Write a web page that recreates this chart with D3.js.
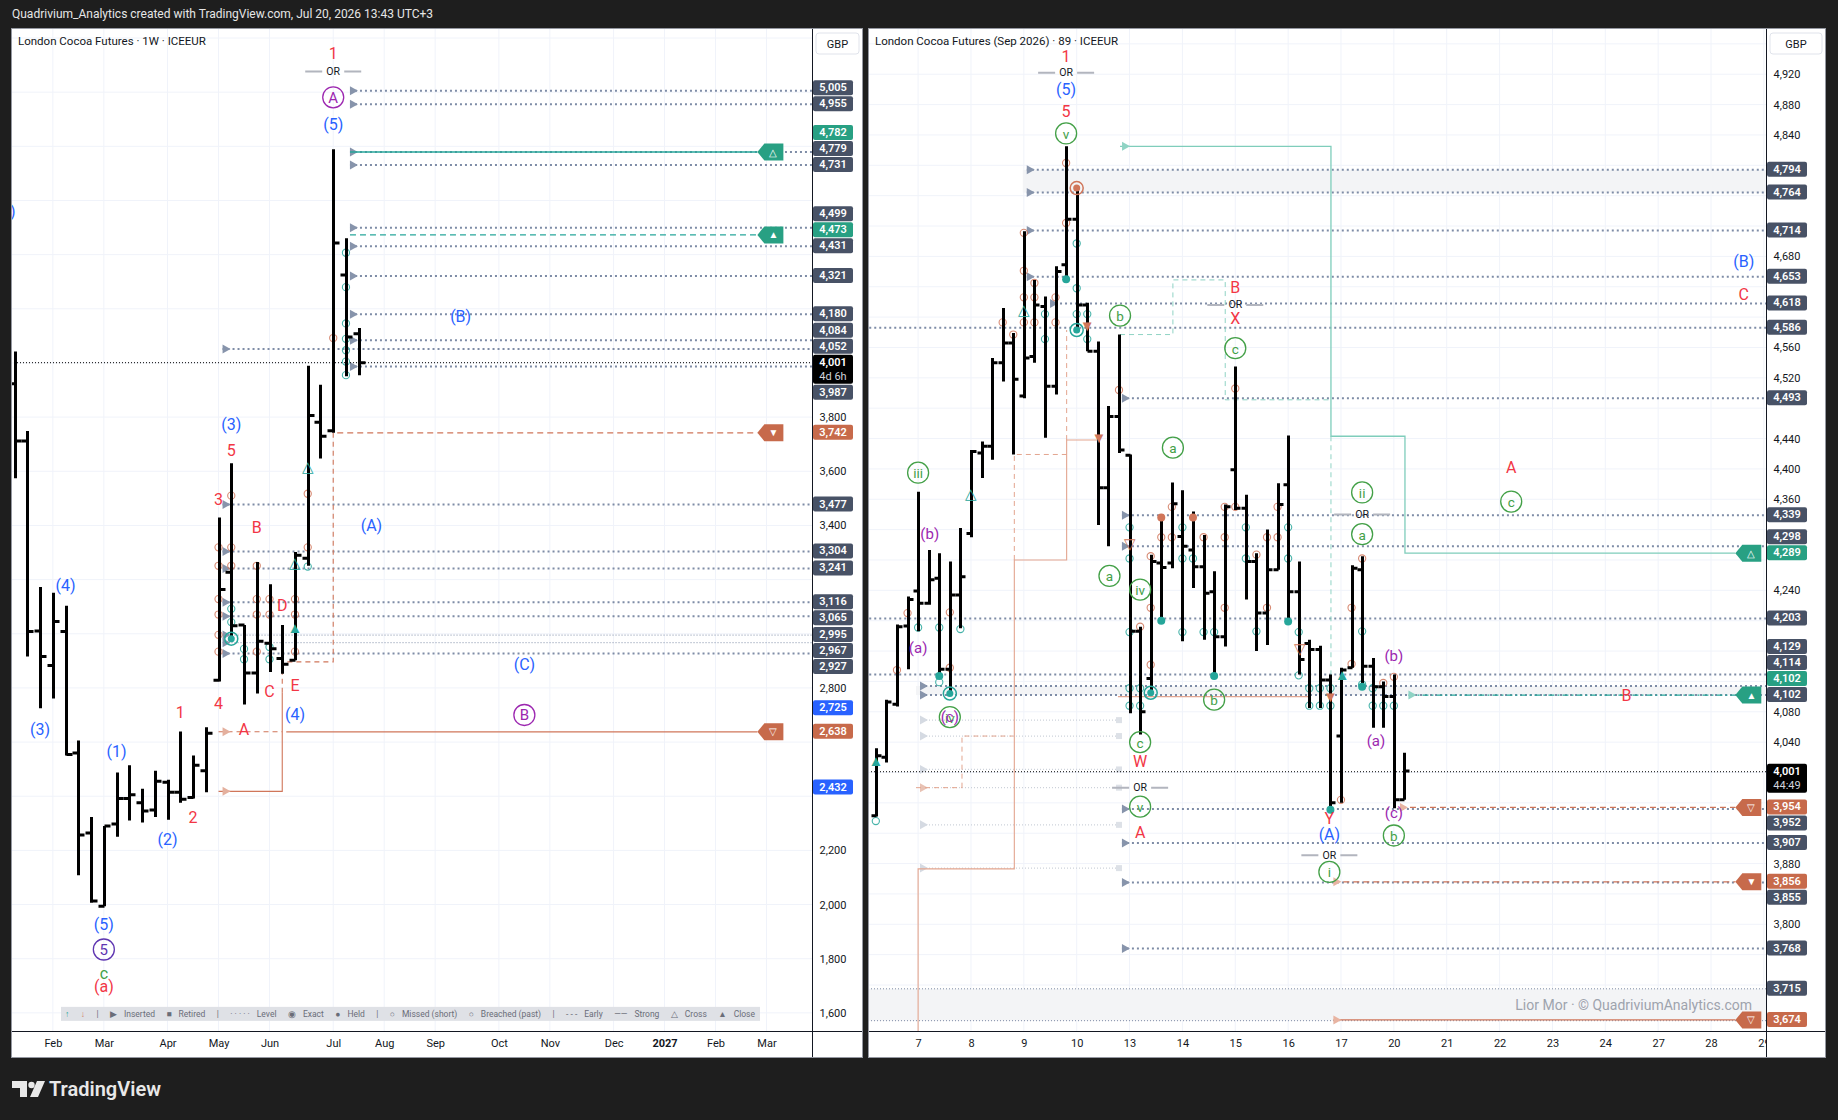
<!DOCTYPE html>
<html>
<head>
<meta charset="utf-8">
<title>London Cocoa Futures</title>
<script src="https://cdn.jsdelivr.net/npm/d3@7/dist/d3.min.js"></script>
<style>
  body { margin: 0; background: #1e1e1e; }
  svg { display: block; }
</style>
</head>
<body>
<script>
// ---------- left panel: weekly OHLC ----------
var weekDates = ["2026-01-12", "2026-01-19", "2026-01-26", "2026-02-02", "2026-02-09", "2026-02-16", "2026-02-23",
  "2026-03-02", "2026-03-09", "2026-03-16", "2026-03-23", "2026-03-30", "2026-04-06", "2026-04-13", "2026-04-20",
  "2026-04-27", "2026-05-04", "2026-05-11", "2026-05-18", "2026-05-25", "2026-06-01", "2026-06-08", "2026-06-15",
  "2026-06-22", "2026-06-29", "2026-07-06", "2026-07-13", "2026-07-20"];
var weekOpen = [3923, 3712, 3010, 2883, 3008, 2560, 2264, 1994, 2297, 2392, 2376, 2349, 2452, 2415, 2395, 2494,
  2828, 3227, 3032, 2855, 2965, 2909, 2902, 3279, 3781, 3750, 4325, 4108];
var weekHigh = [4042, 3749, 3173, 3151, 3103, 2606, 2323, 2290, 2488, 2514, 2428, 2494, 2461, 2639, 2550, 2655,
  3429, 3630, 3032, 3265, 3183, 3032, 3302, 3990, 3920, 4789, 4461, 4129];
var weekLow = [3574, 2916, 2725, 2761, 2550, 2108, 2007, 1994, 2250, 2310, 2303, 2323, 2313, 2376, 2392, 2415,
  2824, 2979, 2739, 2779, 2859, 2852, 2902, 3251, 3647, 3742, 3951, 3955];
var weekClose = [3712, 3008, 2916, 3045, 2554, 2257, 2013, 2290, 2392, 2405, 2345, 2455, 2415, 2389, 2514, 2633,
  3163, 3030, 2855, 2972, 2945, 2887, 3290, 3806, 3729, 4443, 4096, 4001];

var leftPriceTicks = d3.range(1600, 5201, 200);
var leftTickDates = ["2026-02-02", "2026-03-02", "2026-04-06", "2026-05-04", "2026-06-01", "2026-07-06", "2026-08-03",
  "2026-08-31", "2026-10-05", "2026-11-02", "2026-12-07", "2027-01-04", "2027-02-01", "2027-03-01"];
var leftTickLabels = ["Feb", "Mar", "Apr", "May", "Jun", "Jul", "Aug", "Sep", "Oct", "Nov", "Dec", "2027", "Feb", "Mar"];

// dotted levels: price, first week
var leftLevelPrice = [5005, 4955, 4779, 4731, 4499, 4431, 4321, 4180, 4084, 4052, 3987, 3477, 3304, 3241, 3116, 3065, 2995, 2967, 2927];
var leftLevelFrom = ["2026-07-13", "2026-07-13", "2026-07-13", "2026-07-13", "2026-07-13", "2026-07-13", "2026-07-13",
  "2026-07-13", "2026-07-13", "2026-05-04", "2026-07-13", "2026-05-04", "2026-05-04", "2026-05-04", "2026-05-04",
  "2026-05-04", "2026-05-04", "2026-05-04", "2026-05-04"];
var leftLevelThin = [2995, 2967];

// signal lines running to a tag: price, from, kind, symbol
var leftSignals = [[4779, "2026-07-13", "buySolid", "△"], [4473, "2026-07-13", "buyDash", "▲"],
  [3742, "2026-07-06", "sellDash", "▼"], [2638, "2026-06-08", "sellSolid", "▽"]];
var leftTagDate = "2027-02-24";

var leftSalmonSolid = [[["2026-05-04", 2418], ["2026-06-08", 2418], ["2026-06-08", 2782]]];
var leftSalmonDash = [[["2026-05-04", 2638], ["2026-06-08", 2638]],
  [["2026-06-08", 2782], ["2026-06-08", 2896], ["2026-07-06", 2896], ["2026-07-06", 3742]]];

var leftAxisLabels = [[5005, "level"], [4955, "level"], [4782, "buy"], [4779, "level"], [4731, "level"], [4499, "level"],
  [4473, "buy"], [4431, "level"], [4321, "level"], [4180, "level"], [4084, "level"], [4052, "level"], [4001, "last"],
  [3987, "level"], [3742, "sell"], [3477, "level"], [3304, "level"], [3241, "level"], [3116, "level"], [3065, "level"],
  [2995, "level"], [2967, "level"], [2927, "level"], [2725, "target"], [2638, "sell"], [2432, "target"]];

var leftWaves = [["2026-01-11", 4561, ")", "b"],
  ["2026-07-06", 5141, "1", "r"], ["2026-07-06", 5076, "OR", "or"], ["2026-07-06", 4981, "A", "pc"], ["2026-07-06", 4881, "(5)", "b"],
  ["2026-09-14", 4171, "(B)", "b"], ["2026-05-11", 3773, "(3)", "b"], ["2026-05-11", 3678, "5", "r"], ["2026-05-04", 3496, "3", "r"],
  ["2026-05-25", 3392, "B", "r"], ["2026-07-27", 3401, "(A)", "b"], ["2026-06-08", 3106, "D", "r"], ["2026-06-01", 2786, "C", "r"],
  ["2026-06-15", 2808, "E", "r"], ["2026-05-04", 2743, "4", "r"], ["2026-06-15", 2700, "(4)", "b"], ["2026-04-13", 2708, "1", "r"],
  ["2026-05-18", 2648, "A", "r"], ["2026-10-19", 2886, "(C)", "b"], ["2026-10-19", 2700, "B", "pc"], ["2026-02-09", 3180, "(4)", "b"],
  ["2026-01-26", 2648, "(3)", "b"], ["2026-03-09", 2565, "(1)", "b"], ["2026-04-06", 2241, "(2)", "b"], ["2026-04-20", 2323, "2", "r"],
  ["2026-03-02", 1926, "(5)", "b"], ["2026-03-02", 1834, "5", "ic"], ["2026-03-02", 1746, "c", "g"], ["2026-03-02", 1698, "(a)", "r"]];

var leftMarks = [["2026-06-15", 3022, "▲", "teal"], ["2026-06-15", 3262, "△", "teal"], ["2026-06-22", 3616, "△", "teal"],
  ["2026-05-11", 2982, "ring", "teal"]];

// small hollow hit circles: week, price
var leftHitsOrange = [["2026-05-04", 3319], ["2026-05-04", 3251], ["2026-05-04", 3128], ["2026-05-04", 3071],
  ["2026-05-04", 2996], ["2026-05-04", 2934], ["2026-05-11", 3510], ["2026-05-11", 3319], ["2026-05-11", 3251],
  ["2026-05-25", 3251], ["2026-05-25", 3128], ["2026-05-25", 3071], ["2026-05-25", 2934], ["2026-06-01", 3128],
  ["2026-06-01", 3071], ["2026-06-15", 3128], ["2026-06-15", 3071], ["2026-06-15", 2934], ["2026-06-22", 3517],
  ["2026-06-22", 3319], ["2026-07-06", 4092]];
var leftHitsTeal = [["2026-05-11", 3092], ["2026-05-11", 3043], ["2026-05-18", 2944], ["2026-05-18", 2906],
  ["2026-06-01", 2951], ["2026-06-01", 2906], ["2026-06-22", 3248], ["2026-07-13", 4407], ["2026-07-13", 4280],
  ["2026-07-13", 4146], ["2026-07-13", 4089], ["2026-07-13", 4047], ["2026-07-13", 4005], ["2026-07-13", 3955]];

// ---------- right panel: 89 minute OHLC (bar index, 0 = first bar of the 7th) ----------
var barIndex = d3.range(-4, 47);
var barOpen = [3943, 4020, 4090, 4193, 4239, 4223, 4256, 4136, 4234, 4315, 4421, 4430, 4540, 4566, 4496, 4548, 4614,
  4509, 4669, 4729, 4616, 4555, 4375, 4469, 4418, 4186, 4124, 4276, 4276, 4311, 4293, 4271, 4238, 4179, 4399, 4348,
  4278, 4210, 4267, 4379, 4238, 4170, 4162, 4122, 4048, 4138, 4267, 4140, 4113, 4100, 3964];
var barHigh = [4032, 4096, 4195, 4232, 4370, 4293, 4289, 4278, 4322, 4425, 4436, 4546, 4612, 4579, 4713, 4649, 4627,
  4667, 4825, 4770, 4619, 4568, 4483, 4577, 4419, 4192, 4287, 4339, 4382, 4372, 4344, 4313, 4265, 4353, 4535, 4366,
  4289, 4320, 4381, 4444, 4278, 4175, 4167, 4129, 4138, 4273, 4285, 4151, 4120, 4129, 4026];
var barLow = [3942, 4013, 4087, 4136, 4186, 4221, 4124, 4102, 4190, 4310, 4388, 4412, 4515, 4419, 4493, 4540, 4441,
  4498, 4647, 4583, 4555, 4326, 4298, 4421, 4078, 4050, 4105, 4201, 4269, 4173, 4243, 4175, 4127, 4166, 4346, 4228,
  4160, 4168, 4267, 4199, 4129, 4085, 4085, 3951, 3960, 4138, 4113, 4059, 4059, 3953, 3964];
var barClose = [4022, 4093, 4192, 4228, 4223, 4254, 4136, 4234, 4258, 4423, 4430, 4540, 4566, 4518, 4546, 4616, 4509,
  4660, 4729, 4616, 4555, 4375, 4469, 4425, 4186, 4080, 4278, 4270, 4354, 4298, 4271, 4236, 4179, 4350, 4348, 4278,
  4210, 4267, 4353, 4238, 4149, 4162, 4122, 3960, 4135, 4269, 4140, 4113, 4100, 3964, 4002];

var rightPriceTicks = d3.range(3680, 4961, 40);
var dayTickBars = d3.range(0, 81, 5);
var dayTickLabels = ["7", "8", "9", "10", "13", "14", "15", "16", "17", "20", "21", "22", "23", "24", "27", "28", "29"];

var rightLevelPrice = [4794, 4764, 4714, 4653, 4618, 4586, 4493, 4339, 4298, 4203, 4129, 4114, 4102, 3952, 3907, 3855, 3768];
var rightLevelFrom = [9.9, 9.9, 9.9, 9.9, 12.1, -5, 18.9, 18.9, 18.9, -5, -5, -0.2, -0.2, 18.9, 18.9, 18.9, 18.9];
var rightRetiredPrice = [4069, 4048, 4004, 3980, 3931, 3874];
var rightThinPrice = [3715, 3673];
var rightBands = [[4794, 4764, 9.9], [4114, 4102, -0.2], [3715, 3673, -5]];

var rightSignals = [[4289, null, "buySolid", "△"], [4102, 46, "buyDashDot", "▲"], [3954, 45.2, "sellDash", "▽"],
  [3856, 38.9, "sellDash", "▼"], [3674, 38.9, "sellSolid", "▽"]];
var rightTagBar = 77.3;

var rightTealSolid = [[[19.1, 4825], [39.05, 4825], [39.05, 4443], [46.05, 4443], [46.05, 4289], [77.3, 4289]]];
var rightTealDash = [[[39.05, 4443], [39.05, 3951]],
  [[19.1, 4577], [24.1, 4577], [24.1, 4649], [29.05, 4649], [29.05, 4491], [39.05, 4491]]];
var rightSalmonSolid = [[[0, 3600], [0, 3873], [9.1, 3873], [9.1, 4280], [14.05, 4280], [14.05, 4438], [17.1, 4438]],
  [[18.9, 4100], [37.1, 4100]]];
var rightSalmonDash = [[[9.1, 4280], [9.1, 4419], [14.05, 4419]], [[14.05, 4438], [14.05, 4583]],
  [[4.15, 3980], [4.15, 4048], [9.0, 4048]], [[-0.2, 3980], [4.15, 3980]]];

var rightAxisLabels = [[4794, "level"], [4764, "level"], [4714, "level"], [4653, "level"], [4618, "level"], [4586, "level"],
  [4493, "level"], [4339, "level"], [4298, "level"], [4289, "buy"], [4203, "level"], [4129, "level"], [4114, "level"],
  [4102, "buy"], [4102, "level"], [4001, "last"], [3954, "sell"], [3952, "level"], [3907, "level"], [3856, "sell"],
  [3855, "level"], [3768, "level"], [3715, "level"], [3674, "sell"]];

var rightWaves = [[14, 4944, "1", "r"], [14, 4922, "OR", "or"], [14, 4900, "(5)", "b"], [14, 4871, "5", "r"], [14, 4842, "v", "gc"],
  [30, 4639, "B", "r"], [30, 4616, "OR", "or"], [30, 4598, "X", "r"], [30, 4559, "c", "gc"],
  [19.1, 4602, "b", "gc"], [24.1, 4428, "a", "gc"], [0, 4395, "iii", "gc"], [1.1, 4314, "(b)", "p"], [0, 4164, "(a)", "p"],
  [18.1, 4259, "a", "gc"], [21, 4241, "iv", "gc"], [3, 4073, "iv", "gc"], [3, 4073, "(c)", "p"],
  [21, 4040, "c", "gc"], [21, 4014, "W", "r"], [21, 3980, "OR", "or"], [21, 3955, "v", "gc"], [21, 3921, "A", "r"],
  [28, 4096, "b", "gc"], [42, 4369, "ii", "gc"], [42, 4340, "OR", "or"], [42, 4314, "a", "gc"],
  [45, 4154, "(b)", "p"], [43.3, 4042, "(a)", "p"], [38.9, 3940, "Y", "r"], [38.9, 3918, "(A)", "b"], [38.9, 3891, "OR", "or"],
  [38.9, 3869, "i", "gc"], [45, 3946, "(c)", "p"], [45, 3917, "b", "gc"], [78.1, 4673, "(B)", "b"], [78.1, 4630, "C", "r"],
  [56.1, 4402, "A", "r"], [56.1, 4357, "c", "gc"], [67, 4101, "B", "r"]];

var rightMarks = [[-4, 4015, "▲", "teal"], [5, 4367, "△", "teal"], [10, 4610, "△", "teal"], [40.1, 4129, "▲", "teal"],
  [20, 4301, "▽", "orange"], [39, 4100, "▼", "orange"], [36.1, 4163, "▽", "orange"], [16, 4588, "▼", "orange"],
  [17.1, 4441, "▼", "orange"],
  [14, 4650, "dot", "teal"], [15, 4583, "ring", "teal"], [15, 4770, "ring", "orange"], [3, 4104, "ring", "teal"],
  [22, 4105, "ring", "teal"], [23, 4200, "dot", "teal"], [28, 4127, "dot", "teal"], [35, 4199, "dot", "teal"],
  [39, 3951, "dot", "teal"], [42, 4113, "dot", "teal"], [23, 4336, "dot", "orange"], [26, 4336, "dot", "orange"],
  [2, 4127, "dot", "teal"]];

var rightHitsOrange = [[-1, 4210], [-2, 4135], [3, 4211], [3, 4138], [22, 4285], [22, 4217], [22, 4142], [24, 4350],
  [23, 4310], [24, 4310], [27, 4310], [29, 4350], [29, 4310], [30, 4350], [29, 4217], [32, 4287], [33, 4310], [34, 4350],
  [34, 4310], [33, 4217], [41, 4217], [41, 4143], [42, 4282], [44, 4118], [45, 4126], [40, 3964], [21, 4192],
  [14, 4803], [14, 4724], [10, 4711], [10, 4661], [11, 4645], [10, 4626], [11, 4626], [13, 4626], [8, 4593], [10, 4593],
  [11, 4593], [13, 4593], [9, 4577], [19, 4504], [30, 4506]];
var rightHitsTeal = [[0, 4191], [2, 4191], [4, 4189], [2, 4119], [20, 4323], [20, 4282], [20, 4185], [20, 4111], [21, 4111],
  [20, 4088], [21, 4088], [25, 4323], [25, 4282], [26, 4282], [25, 4185], [27, 4185], [28, 4185], [31, 4323], [31, 4282],
  [32, 4186], [35, 4323], [35, 4282], [36, 4185], [36, 4128], [37, 4111], [38, 4111], [39, 4111], [37, 4088], [38, 4088],
  [39, 4088], [42, 4186], [42, 4116], [43, 4088], [44, 4088], [45, 4088], [43, 4111], [-4, 3936],
  [15, 4697], [15, 4638], [15, 4604], [16, 4604], [12, 4604], [12, 4571], [16, 4571]];

var legendItems = [["↑", ""], ["↓", ""], ["|", ""], ["▶", "Inserted"], ["■", "Retired"], ["|", ""], ["· · · · ·", "Level"],
  ["◉", "Exact"], ["●", "Held"], ["|", ""], ["○", "Missed (short)"], ["○", "Breached (past)"], ["|", ""],
  ["- - -", "Early"], ["——", "Strong"], ["△", "Cross"], ["▲", "Close"]];

// ---------- layout ----------
var parseDate = d3.timeParse("%Y-%m-%d");
var chartTop = 28, plotBottom = 1031, axisBottom = 1058;
var leftBox = { left: 11, right: 812, axisRight: 863 };
var rightBox = { left: 868, right: 1766, axisRight: 1826 };
var font = "Roboto, 'Noto Sans', sans-serif";
var tagH = 16;

var colors = {
  level: "#485266", buy: "#28a083", sell: "#c76a4b", target: "#2962ff", last: "#000000",
  red: "#f23645", blue: "#2962ff", green: "#43a047", purple: "#9c27b0", indigo: "#5e35b1",
  teal: "#26a69a", orange: "#d0765a", dots: "#7e8ca6", grid: "#f0f3fa"
};

var svg = d3.select("body").append("svg")
  .attr("width", 1838)
  .attr("height", 1120)
  .style("font-family", font);

svg.append("rect").attr("width", 1838).attr("height", 1120).attr("fill", "#1e1e1e");
svg.append("text")
  .attr("x", 12).attr("y", 18)
  .attr("fill", "#e6e6e6").attr("font-size", 12)
  .text("Quadrivium_Analytics created with TradingView.com, Jul 20, 2026 13:43 UTC+3");

var defs = svg.append("defs");

// scales
var xLeft = d3.scaleTime()
  .domain([parseDate("2026-01-10"), parseDate("2027-03-26")])
  .range([leftBox.left, leftBox.right]);
var yLeft = d3.scaleLinear().domain([1533, 5237]).range([plotBottom, chartTop]);
var xRight = d3.scaleLinear().domain([-4.74, 80.2]).range([rightBox.left, rightBox.right]);
var yRight = d3.scaleLinear().domain([3659.4, 4980.9]).range([plotBottom, chartTop]);

function makePanel(box, id, title) {
  var g = svg.append("g");
  g.append("rect")
    .attr("x", box.left).attr("y", chartTop)
    .attr("width", box.axisRight - box.left).attr("height", axisBottom - chartTop)
    .attr("fill", "#fff");
  defs.append("clipPath").attr("id", "clip-" + id)
    .append("rect")
    .attr("x", box.left).attr("y", chartTop)
    .attr("width", box.right - box.left).attr("height", plotBottom - chartTop);
  var grid = g.append("g");
  var plot = g.append("g").attr("clip-path", "url(#clip-" + id + ")");
  g.append("text")
    .attr("x", box.left + 7).attr("y", chartTop + 17)
    .attr("font-size", 11.5).attr("fill", "#131722")
    .text(title);
  return { g: g, grid: grid, plot: plot, box: box };
}

var left = makePanel(leftBox, "left", "London Cocoa Futures · 1W · ICEEUR");
var right = makePanel(rightBox, "right", "London Cocoa Futures (Sep 2026) · 89 · ICEEUR");

// grid
function drawGrid(p, xs, ys, xTicks, yTicks) {
  p.grid.selectAll("line.gx").data(xTicks).enter().append("line")
    .attr("x1", function (d) { return xs(d); }).attr("x2", function (d) { return xs(d); })
    .attr("y1", chartTop).attr("y2", plotBottom)
    .attr("stroke", colors.grid);
  p.grid.selectAll("line.gy").data(yTicks).enter().append("line")
    .attr("x1", p.box.left).attr("x2", p.box.right)
    .attr("y1", function (d) { return ys(d); }).attr("y2", function (d) { return ys(d); })
    .attr("stroke", colors.grid);
}
drawGrid(left, xLeft, yLeft, leftTickDates.map(parseDate), leftPriceTicks);
drawGrid(right, xRight, yRight, dayTickBars, rightPriceTicks);

var line = d3.line();

function polyline(g, pts, xs, ys, xConv, color, width, dash) {
  g.append("path")
    .attr("d", line(pts.map(function (d) { return [xs(xConv(d[0])), ys(d[1])]; })))
    .attr("fill", "none")
    .attr("stroke", color)
    .attr("stroke-width", width)
    .attr("stroke-dasharray", dash || null);
}

function startArrow(g, x, y, color) {
  g.append("path")
    .attr("d", "M" + x + "," + (y - 4.5) + "L" + (x + 8) + "," + y + "L" + x + "," + (y + 4.5) + "Z")
    .attr("fill", color);
}

function tag(g, x, y, color, symbol) {
  g.append("path")
    .attr("d", "M" + x + "," + y + "L" + (x + 7) + "," + (y - 8.5) + "H" + (x + 26) + "V" + (y + 8.5) + "H" + (x + 7) + "Z")
    .attr("fill", color);
  g.append("text")
    .attr("x", x + 16).attr("y", y)
    .attr("text-anchor", "middle").attr("dominant-baseline", "central")
    .attr("font-size", 10).attr("fill", "#fff")
    .text(symbol);
}

function signalStyle(kind) {
  if (kind === "buySolid") return [colors.teal, 1.4, null];
  if (kind === "buyDash") return [colors.teal, 1.2, "6,4"];
  if (kind === "buyDashDot") return [colors.teal, 1.2, "6,3,2,3"];
  if (kind === "sellDash") return [colors.orange, 1.2, "6,4"];
  return [colors.orange, 1.2, null];
}

function drawHits(g, xs, ys, xConv, pts, color) {
  g.selectAll(null).data(pts).enter().append("circle")
    .attr("cx", function (d) { return xs(xConv(d[0])); })
    .attr("cy", function (d) { return ys(d[1]); })
    .attr("r", 3.6)
    .attr("fill", "none")
    .attr("stroke", color)
    .attr("stroke-width", 1.1)
    .attr("opacity", 0.85);
}

function drawBars(g, xs, ys, xVals, o, h, l, c, tick) {
  g.selectAll("path.bar").data(d3.range(xVals.length)).enter().append("path")
    .attr("d", function (i) {
      var cx = Math.round(xs(xVals[i])) + 0.5;
      return "M" + cx + "," + ys(h[i]) + "V" + ys(l[i]) +
        "M" + (cx - tick) + "," + ys(o[i]) + "H" + cx +
        "M" + cx + "," + ys(c[i]) + "H" + (cx + tick);
    })
    .attr("fill", "none")
    .attr("stroke", "#000")
    .attr("stroke-width", 3);
}

function drawMarks(g, xs, ys, xConv, marks) {
  marks.forEach(function (m) {
    var x = xs(xConv(m[0])), y = ys(m[1]), col = m[3] === "teal" ? colors.teal : colors.orange;
    if (m[2] === "dot") {
      g.append("circle").attr("cx", x).attr("cy", y).attr("r", 4).attr("fill", col);
    } else if (m[2] === "ring") {
      g.append("circle").attr("cx", x).attr("cy", y).attr("r", 6.5).attr("fill", "none").attr("stroke", col).attr("stroke-width", 1.5);
      g.append("circle").attr("cx", x).attr("cy", y).attr("r", 3.5).attr("fill", col);
    } else {
      g.append("text").attr("x", x).attr("y", y)
        .attr("text-anchor", "middle").attr("dominant-baseline", "central")
        .attr("font-size", 15).attr("fill", col).text(m[2]);
    }
  });
}

function drawWaves(g, xs, ys, xConv, waves) {
  waves.forEach(function (w) {
    var x = xs(xConv(w[0])), y = ys(w[1]), kind = w[3];
    if (kind === "or") {
      g.append("text").attr("x", x).attr("y", y)
        .attr("text-anchor", "middle").attr("dominant-baseline", "central")
        .attr("font-size", 10.5).attr("fill", "#131722").text("OR");
      g.append("path")
        .attr("d", "M" + (x - 28) + "," + y + "H" + (x - 11) + "M" + (x + 11) + "," + y + "H" + (x + 28))
        .attr("stroke", "#b2b5be").attr("stroke-width", 2);
      return;
    }
    if (kind === "gc" || kind === "pc" || kind === "ic") {
      var col = kind === "gc" ? colors.green : (kind === "pc" ? colors.purple : colors.indigo);
      g.append("circle").attr("cx", x).attr("cy", y).attr("r", 10.5)
        .attr("fill", "none").attr("stroke", col).attr("stroke-width", 1.3);
      g.append("text").attr("x", x).attr("y", y + 0.5)
        .attr("text-anchor", "middle").attr("dominant-baseline", "central")
        .attr("font-size", kind === "gc" ? 13.5 : 15).attr("fill", col).text(w[2]);
      return;
    }
    var fill = { r: colors.red, b: colors.blue, p: colors.purple, g: colors.green }[kind];
    g.append("text").attr("x", x).attr("y", y)
      .attr("text-anchor", "middle").attr("dominant-baseline", "central")
      .attr("font-size", kind === "p" ? 15 : 16).attr("fill", fill).text(w[2]);
  });
}

// ---------- left panel content ----------
var lp = left.plot;
var dateOf = function (d) { return parseDate(d); };
var keep = function (d) { return d; };

leftLevelPrice.forEach(function (p, i) {
  var x0 = xLeft(parseDate(leftLevelFrom[i])) + 4, y = yLeft(p);
  var thin = leftLevelThin.indexOf(p) >= 0;
  lp.append("line")
    .attr("x1", x0).attr("x2", leftBox.right).attr("y1", y).attr("y2", y)
    .attr("stroke", colors.dots).attr("stroke-width", thin ? 1 : 2)
    .attr("stroke-dasharray", thin ? "1,2" : "2,3");
  startArrow(lp, x0, y, "#8794ab");
});

leftSalmonSolid.forEach(function (pts) { polyline(lp, pts, xLeft, yLeft, dateOf, colors.orange, 1.1); });
leftSalmonDash.forEach(function (pts) { polyline(lp, pts, xLeft, yLeft, dateOf, colors.orange, 1.1, "5,4"); });
startArrow(lp, xLeft(parseDate("2026-05-04")) + 4, yLeft(2638), "#e4b09e");
startArrow(lp, xLeft(parseDate("2026-05-04")) + 4, yLeft(2418), "#e4b09e");

leftSignals.forEach(function (s) {
  var st = signalStyle(s[2]), y = yLeft(s[0]), tx = xLeft(parseDate(leftTagDate));
  lp.append("line")
    .attr("x1", xLeft(parseDate(s[1])) + 4).attr("x2", tx).attr("y1", y).attr("y2", y)
    .attr("stroke", st[0]).attr("stroke-width", st[1]).attr("stroke-dasharray", st[2]);
  tag(lp, tx, y, s[2].indexOf("buy") === 0 ? colors.buy : colors.sell, s[3]);
});

// last price line
lp.append("line")
  .attr("x1", leftBox.left).attr("x2", leftBox.right)
  .attr("y1", yLeft(4001)).attr("y2", yLeft(4001))
  .attr("stroke", "#000").attr("stroke-dasharray", "1,2");

drawHits(lp, xLeft, yLeft, dateOf, leftHitsOrange, colors.orange);
drawHits(lp, xLeft, yLeft, dateOf, leftHitsTeal, colors.teal);
drawBars(lp, xLeft, yLeft, weekDates.map(parseDate), weekOpen, weekHigh, weekLow, weekClose, 6);
drawMarks(lp, xLeft, yLeft, dateOf, leftMarks);
drawWaves(lp, xLeft, yLeft, dateOf, leftWaves);

// legend strip
var legend = lp.append("g");
legend.append("rect")
  .attr("x", 61).attr("y", yLeft(1600) - 6).attr("width", 699).attr("height", 14)
  .attr("fill", "#dfe1e6");
var legendParts = legendItems.map(function (it) {
  var grp = legend.append("g");
  var sym = grp.append("text").attr("font-size", 8.5).attr("fill", it[0] === "↑" ? colors.teal : (it[0] === "↓" ? colors.orange : "#6a6d78"))
    .attr("dominant-baseline", "central").text(it[0]);
  var w = sym.node().getComputedTextLength();
  if (it[1]) {
    var lab = grp.append("text").attr("x", w + 7).attr("font-size", 8.5).attr("fill", "#6a6d78")
      .attr("dominant-baseline", "central").text(it[1]);
    w += 7 + lab.node().getComputedTextLength();
  }
  return { g: grp, w: w };
});
var legendTotal = d3.sum(legendParts, function (d) { return d.w; });
var legendGap = (690 - legendTotal) / (legendParts.length - 1);
var lx = 65;
legendParts.forEach(function (d) {
  d.g.attr("transform", "translate(" + lx + "," + (yLeft(1600) + 1) + ")");
  lx += d.w + legendGap;
});

// ---------- right panel content ----------
var rp = right.plot;

rightBands.forEach(function (b) {
  rp.append("rect")
    .attr("x", xRight(b[2])).attr("y", yRight(b[0]))
    .attr("width", rightBox.right - xRight(b[2])).attr("height", yRight(b[1]) - yRight(b[0]))
    .attr("fill", "#f3f4f6");
});

rightLevelPrice.forEach(function (p, i) {
  var x0 = xRight(rightLevelFrom[i]) + 4, y = yRight(p);
  rp.append("line")
    .attr("x1", x0).attr("x2", rightBox.right).attr("y1", y).attr("y2", y)
    .attr("stroke", colors.dots).attr("stroke-width", 2).attr("stroke-dasharray", "2,3");
  if (rightLevelFrom[i] > -4) startArrow(rp, x0, y, "#8794ab");
});
rightRetiredPrice.forEach(function (p, i) {
  var y = yRight(p);
  rp.append("line")
    .attr("x1", xRight(-0.2) + 4).attr("x2", xRight(19)).attr("y1", y).attr("y2", y)
    .attr("stroke", "#cdd2da").attr("stroke-width", 1.2).attr("stroke-dasharray", "1,2");
  startArrow(rp, xRight(-0.2) + 4, y, i === 3 ? "#e8c2b4" : "#d5dae2");
  rp.append("rect").attr("x", xRight(19) - 3).attr("y", y - 3).attr("width", 6).attr("height", 6).attr("fill", "#dde1e7");
});
rightThinPrice.forEach(function (p) {
  rp.append("line")
    .attr("x1", rightBox.left).attr("x2", rightBox.right).attr("y1", yRight(p)).attr("y2", yRight(p))
    .attr("stroke", colors.dots).attr("stroke-width", 1).attr("stroke-dasharray", "1,2");
});

rightTealSolid.forEach(function (pts) { polyline(rp, pts, xRight, yRight, keep, "#7fcdbb", 1.3); });
rightTealDash.forEach(function (pts) { polyline(rp, pts, xRight, yRight, keep, "#8fd3c4", 1, "5,4"); });
rightSalmonSolid.forEach(function (pts) { polyline(rp, pts, xRight, yRight, keep, "#e3a58f", 1.1); });
rightSalmonDash.forEach(function (pts) { polyline(rp, pts, xRight, yRight, keep, "#e3a58f", 1, "5,4"); });
startArrow(rp, xRight(19.1) + 2, yRight(4825), "#8fd3c4");

rightSignals.forEach(function (s) {
  var st = signalStyle(s[2]), y = yRight(s[0]), tx = xRight(rightTagBar);
  if (s[1] !== null) {
    rp.append("line")
      .attr("x1", xRight(s[1]) + 4).attr("x2", tx).attr("y1", y).attr("y2", y)
      .attr("stroke", st[0]).attr("stroke-width", st[1]).attr("stroke-dasharray", st[2]);
    startArrow(rp, xRight(s[1]) + 4, y, s[2].indexOf("buy") === 0 ? "#8fd3c4" : "#e8b4a2");
  }
  tag(rp, tx, y, s[2].indexOf("buy") === 0 ? colors.buy : colors.sell, s[3]);
});

rp.append("line")
  .attr("x1", rightBox.left).attr("x2", rightBox.right)
  .attr("y1", yRight(4001)).attr("y2", yRight(4001))
  .attr("stroke", "#000").attr("stroke-dasharray", "1,2");

drawHits(rp, xRight, yRight, keep, rightHitsOrange, colors.orange);
drawHits(rp, xRight, yRight, keep, rightHitsTeal, colors.teal);
drawBars(rp, xRight, yRight, barIndex, barOpen, barHigh, barLow, barClose, 5);
drawMarks(rp, xRight, yRight, keep, rightMarks);
drawWaves(rp, xRight, yRight, keep, rightWaves);

rp.append("text")
  .attr("x", 1752).attr("y", yRight(3694))
  .attr("text-anchor", "end").attr("dominant-baseline", "central")
  .attr("font-size", 14).attr("fill", "#9ea3ad")
  .text("Lior Mor · © QuadriviumAnalytics.com");

// ---------- axes ----------
function priceAxis(p, ys, ticks, labels, countdown) {
  var box = p.box;

  // price tags: the last price stays put, tags above it are pushed upward, tags below pushed downward
  var items = labels.map(function (d, i) {
    return { price: d[0], kind: d[1], y: ys(d[0]), order: i };
  });
  var last = items.filter(function (d) { return d.kind === "last"; })[0];
  last.top = last.y - 8; last.h = 30;
  var above = items.filter(function (d) { return d !== last && d.y <= last.y; })
    .sort(function (a, b) { return b.y - a.y || b.order - a.order; });
  var below = items.filter(function (d) { return d !== last && d.y > last.y; })
    .sort(function (a, b) { return a.y - b.y || a.order - b.order; });
  var limit = last.top;
  above.forEach(function (d) {
    d.h = tagH;
    d.top = Math.min(d.y - tagH / 2, limit - tagH);
    limit = d.top;
  });
  limit = last.top + last.h;
  below.forEach(function (d) {
    d.h = tagH;
    d.top = Math.max(d.y - tagH / 2, limit);
    limit = d.top + tagH;
  });

  // tick labels that sit under a tag or the GBP badge are hidden, as on the original
  var visibleTicks = ticks.filter(function (t) {
    var y = ys(t);
    if (y < chartTop + 34) return false;
    return !items.some(function (d) { return y > d.top - 6 && y < d.top + d.h + 5; });
  });
  var ax = p.g.append("g").attr("transform", "translate(" + box.right + ",0)")
    .call(d3.axisRight(ys).tickValues(visibleTicks).tickFormat(d3.format(",")).tickSize(0).tickPadding(21));
  ax.select(".domain").remove();
  ax.selectAll("text").attr("text-anchor", "middle").attr("font-size", 11).attr("fill", "#131722").attr("font-family", font);

  // GBP badge
  p.g.append("rect")
    .attr("x", box.right + 4).attr("y", chartTop + 5).attr("width", box.axisRight - box.right - 8).attr("height", 21)
    .attr("rx", 3).attr("fill", "#fff").attr("stroke", "#e0e3eb");
  p.g.append("text")
    .attr("x", (box.right + box.axisRight) / 2).attr("y", chartTop + 16)
    .attr("text-anchor", "middle").attr("dominant-baseline", "central")
    .attr("font-size", 11).attr("fill", "#131722").text("GBP");

  var cx = box.right + 21;
  items.forEach(function (d) {
    p.g.append("rect")
      .attr("x", box.right + 1).attr("y", d.top).attr("width", 40).attr("height", d.h - 1)
      .attr("rx", 2).attr("fill", colors[d.kind]);
    p.g.append("text")
      .attr("x", cx).attr("y", d.top + 7.5)
      .attr("text-anchor", "middle").attr("dominant-baseline", "central")
      .attr("font-size", 11).attr("font-weight", 600).attr("fill", "#fff")
      .text(d3.format(",")(d.price));
    if (d.kind === "last") {
      p.g.append("text")
        .attr("x", cx).attr("y", d.top + 21.5)
        .attr("text-anchor", "middle").attr("dominant-baseline", "central")
        .attr("font-size", 11).attr("fill", "#d1d4dc")
        .text(countdown);
    }
  });

  // borders
  p.g.append("line").attr("x1", box.right + 0.5).attr("x2", box.right + 0.5)
    .attr("y1", chartTop).attr("y2", axisBottom).attr("stroke", "#131722");
  p.g.append("line").attr("x1", box.left).attr("x2", box.axisRight)
    .attr("y1", plotBottom + 0.5).attr("y2", plotBottom + 0.5).attr("stroke", "#131722");
  p.g.append("rect")
    .attr("x", box.left + 0.5).attr("y", chartTop + 0.5)
    .attr("width", box.axisRight - box.left - 1).attr("height", axisBottom - chartTop - 1)
    .attr("fill", "none").attr("stroke", "#9598a1");
}

function timeAxis(p, xs, ticks, labels, id) {
  defs.append("clipPath").attr("id", "tclip-" + id)
    .append("rect").attr("x", p.box.left).attr("y", plotBottom).attr("width", p.box.right - p.box.left).attr("height", axisBottom - plotBottom);
  var ax = p.g.append("g")
    .attr("clip-path", "url(#tclip-" + id + ")")
    .append("g")
    .attr("transform", "translate(0," + plotBottom + ")")
    .call(d3.axisBottom(xs).tickValues(ticks).tickFormat(function (d, i) { return labels[i]; }).tickSize(0).tickPadding(8));
  ax.select(".domain").remove();
  ax.selectAll("text")
    .attr("font-size", 11).attr("fill", "#131722").attr("font-family", font)
    .attr("font-weight", function (d, i) { return /^\d{4}$/.test(labels[i]) ? 700 : 400; });
}

timeAxis(left, xLeft, leftTickDates.map(parseDate), leftTickLabels, "left");
timeAxis(right, xRight, dayTickBars, dayTickLabels, "right");
priceAxis(left, yLeft, leftPriceTicks, leftAxisLabels, "4d 6h");
priceAxis(right, yRight, rightPriceTicks, rightAxisLabels, "44:49");

// ---------- footer logo ----------
var logo = svg.append("g").attr("fill", "#e8e8e8");
logo.append("path").attr("d", "M12,1081H27V1097H20V1088H12Z");
logo.append("circle").attr("cx", 31.5).attr("cy", 1085).attr("r", 3.2);
logo.append("path").attr("d", "M37,1081H45L38,1097H30Z");
logo.append("text")
  .attr("x", 49).attr("y", 1096)
  .attr("font-size", 20).attr("font-weight", 600)
  .text("TradingView");
</script>
</body>
</html>
